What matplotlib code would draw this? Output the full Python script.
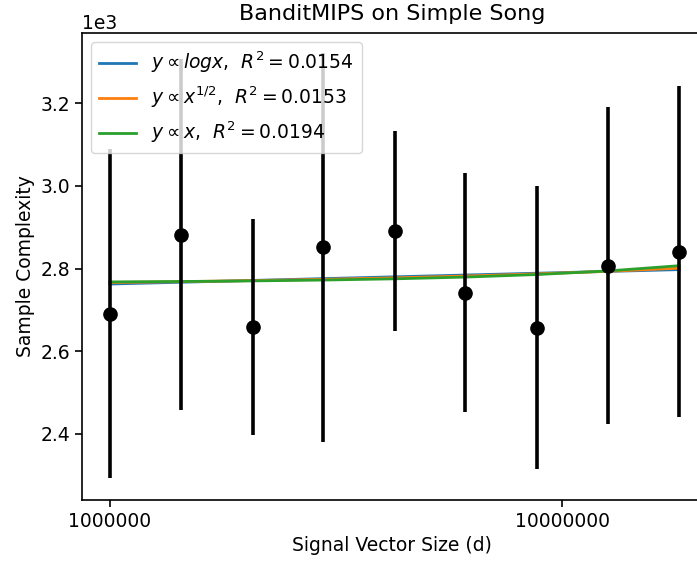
import numpy as np
import matplotlib.pyplot as plt
from matplotlib.ticker import FixedLocator, NullLocator, FuncFormatter

# signal vector sizes and measured sample complexity (mean, std)
sizes = [1.0e6, 1.437e6, 2.07e6, 2.96e6, 4.27e6, 6.1e6, 8.8e6, 12.65e6, 18.15e6]
means = [2691, 2882, 2659, 2851, 2890, 2742, 2657, 2807, 2841]
errs = [398, 424, 262, 470, 242, 290, 342, 384, 400]

fit_names = ["logx", "x^{1/2}", "x"]
fit_r2 = [0.0154, 0.0153, 0.0194]
fit_funcs = [np.log, np.sqrt, lambda v: v]

plt.rcParams["font.size"] = 13.5

x = np.array(sizes)
y = np.array(means)

fig = plt.figure(figsize=(6.97, 5.64), dpi=100)
ax = fig.add_axes([0.1176, 0.1135, 0.89, 0.828])

for name, r2, f in zip(fit_names, fit_r2, fit_funcs):
    A = np.vstack([f(x), np.ones_like(x)]).T
    coef, *_ = np.linalg.lstsq(A, y, rcond=None)
    ax.plot(x, A @ coef, linewidth=2, label=rf"$y \propto {name}$,  $R^2 = {r2}$")

ax.errorbar(x, y, yerr=errs, fmt="o", color="black", ecolor="black",
            elinewidth=2.6, markersize=9.5)

ax.set_xscale("log")
ax.set_xlim(10 ** 5.938, 10 ** 7.31)
ax.xaxis.set_major_locator(FixedLocator([1e6, 1e7]))
ax.xaxis.set_minor_locator(NullLocator())
ax.xaxis.set_major_formatter(FuncFormatter(lambda v, p: f"{int(v)}"))
ax.ticklabel_format(axis="y", style="sci", scilimits=(3, 3))
ax.set_ylim(2240, 3370)
ax.tick_params(length=5, width=1.2)
for s in ax.spines.values():
    s.set_linewidth(1.2)

ax.set_title("BanditMIPS on Simple Song", fontsize=16, pad=9)
ax.set_xlabel("Signal Vector Size (d)")
ax.set_ylabel("Sample Complexity")
ax.legend(loc="upper left", fontsize=13.5)

fig.savefig("out.png", dpi=100)
